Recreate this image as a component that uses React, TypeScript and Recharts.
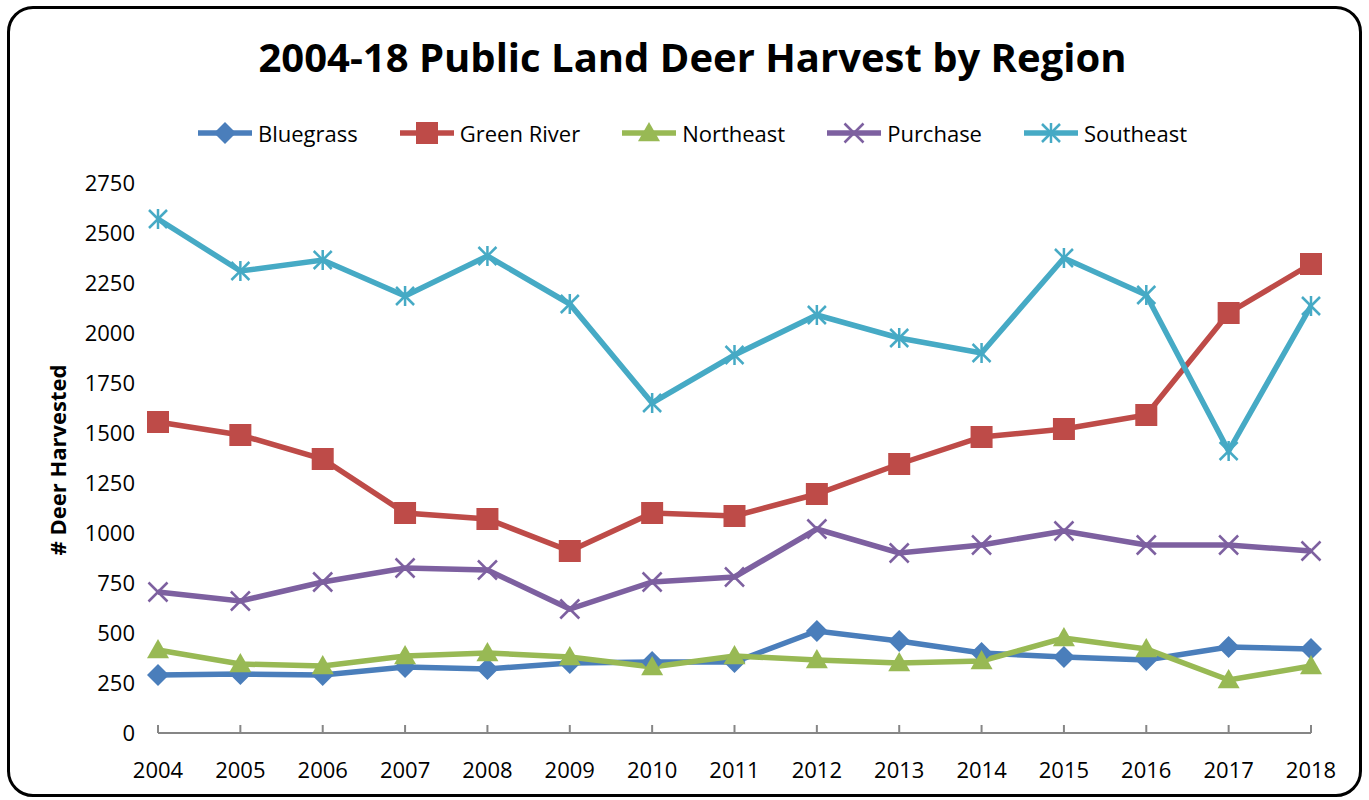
import React from 'react';
import { LineChart, Line, XAxis, YAxis, Legend } from 'recharts';

const years = ['2004', '2005', '2006', '2007', '2008', '2009', '2010', '2011', '2012', '2013', '2014', '2015', '2016', '2017', '2018'];
const bluegrass = [290, 295, 290, 330, 320, 350, 355, 355, 510, 460, 400, 380, 365, 430, 420];
const greenRiver = [1555, 1490, 1370, 1100, 1070, 910, 1100, 1085, 1195, 1345, 1480, 1520, 1590, 2100, 2345];
const northeast = [415, 345, 335, 385, 400, 380, 330, 385, 365, 350, 360, 475, 420, 265, 335];
const purchase = [705, 660, 755, 825, 815, 620, 755, 780, 1020, 900, 940, 1010, 940, 940, 910];
const southeast = [2570, 2310, 2365, 2185, 2385, 2145, 1650, 1890, 2090, 1975, 1900, 2375, 2190, 1410, 2135];
const yTicks = [0, 250, 500, 750, 1000, 1250, 1500, 1750, 2000, 2250, 2500, 2750];

const seriesNames = ['Bluegrass', 'Green River', 'Northeast', 'Purchase', 'Southeast'];
const seriesColors = ['#4A7EBB', '#BE4B48', '#98B954', '#7D60A0', '#46AAC5'];
const seriesMarkers = ['diamond', 'square', 'triangle', 'x', 'star'];
const seriesValues = [bluegrass, greenRiver, northeast, purchase, southeast];

const data = years.map((y, i) => {
  const row: any = { year: y };
  seriesNames.forEach((n, k) => { row[n] = seriesValues[k][i]; });
  return row;
});

const FONT = '"Open Sans", sans-serif';
const AXIS_Y = 733;

function Marker({ kind, cx, cy, color }: { kind: string; cx: number; cy: number; color: string }) {
  if (kind === 'diamond') {
    const r = 11;
    return <polygon points={`${cx},${cy - r} ${cx + r},${cy} ${cx},${cy + r} ${cx - r},${cy}`} fill={color} />;
  }
  if (kind === 'square') {
    const r = 11;
    return <rect x={cx - r} y={cy - r} width={2 * r} height={2 * r} fill={color} />;
  }
  if (kind === 'triangle') {
    const r = 11;
    return <polygon points={`${cx},${cy - r} ${cx + r},${cy + r * 0.75} ${cx - r},${cy + r * 0.75}`} fill={color} />;
  }
  if (kind === 'x') {
    const r = 9.5;
    return (
      <g stroke={color} strokeWidth={2.5}>
        <line x1={cx - r} y1={cy - r} x2={cx + r} y2={cy + r} />
        <line x1={cx - r} y1={cy + r} x2={cx + r} y2={cy - r} />
      </g>
    );
  }
  const r = 9;
  return (
    <g stroke={color} strokeWidth={2.5}>
      <line x1={cx - r} y1={cy - r} x2={cx + r} y2={cy + r} />
      <line x1={cx - r} y1={cy + r} x2={cx + r} y2={cy - r} />
      <line x1={cx} y1={cy - r - 1} x2={cx} y2={cy + r + 1} />
    </g>
  );
}

const makeDot = (kind: string, color: string) => (props: any) => {
  const { cx, cy, index } = props;
  if (cx == null || cy == null) return <g key={`d-${index}`} />;
  return <g key={`d-${kind}-${index}`}><Marker kind={kind} cx={cx} cy={cy} color={color} /></g>;
};

const XTick = (props: any) => {
  const { x, payload } = props;
  return (
    <g>
      <line x1={x} x2={x} y1={AXIS_Y - 8} y2={AXIS_Y} stroke="#868686" strokeWidth={2} />
      <text x={x} y={AXIS_Y + 45} textAnchor="middle" fontFamily={FONT} fontSize={22} fill="#000">{payload.value}</text>
    </g>
  );
};

const LegendContent = () => (
  <div style={{ display: 'flex', justifyContent: 'center', fontFamily: FONT, fontSize: 22, color: '#000', paddingLeft: 14 }}>
    {seriesNames.map((n, k) => (
      <div key={n} style={{ display: 'flex', alignItems: 'center', marginRight: k < seriesNames.length - 1 ? 40 : 0 }}>
        <svg width={58} height={26} style={{ marginRight: 4 }}>
          <line x1={2} x2={56} y1={13} y2={13} stroke={seriesColors[k]} strokeWidth={5.5} />
          <Marker kind={seriesMarkers[k]} cx={29} cy={13} color={seriesColors[k]} />
        </svg>
        <span>{n}</span>
      </div>
    ))}
  </div>
);

const YLabel = () => (
  <text transform="translate(66,460) rotate(-90)" textAnchor="middle" fontFamily={FONT} fontWeight="bold" fontSize={22} fill="#000">
    # Deer Harvested
  </text>
);

export default function App() {
  return (
    <div style={{ position: 'absolute', left: 0, top: 0, width: 1369, height: 800, background: '#fff' }}>
      <div style={{ position: 'absolute', left: 7, top: 6, width: 1349, height: 785, border: '3px solid #000', borderRadius: 26 }} />
      <div style={{ position: 'absolute', left: 0, top: 29, width: 1385, textAlign: 'center', fontFamily: FONT, fontWeight: 'bold', fontSize: 40, color: '#000' }}>
        2004-18 Public Land Deer Harvest by Region
      </div>
      <div style={{ position: 'absolute', left: 0, top: 0 }}>
        <LineChart width={1369} height={800} data={data} margin={{ top: 183, right: 58, bottom: 27, left: 0 }}>
          <XAxis dataKey="year" height={40} tickSize={0} tickMargin={0} tickLine={false} axisLine={{ stroke: '#868686', strokeWidth: 2 }} tick={<XTick />} interval={0} />
          <YAxis width={158} domain={[0, 2750]} ticks={yTicks} axisLine={false} tickLine={false} tickSize={0} tickMargin={23}
            tick={{ fontFamily: FONT, fontSize: 22, fill: '#000' }} label={<YLabel />} interval={0} />
          <Legend layout="horizontal" verticalAlign="middle" align="center" wrapperStyle={{ top: 118, left: 0, width: 1369 }} content={<LegendContent />} />
          {seriesNames.map((n, k) => (
            <Line key={n} type="linear" dataKey={n} name={n} stroke={seriesColors[k]} strokeWidth={5.5}
              dot={makeDot(seriesMarkers[k], seriesColors[k])} activeDot={false} isAnimationActive={false} />
          ))}
        </LineChart>
      </div>
    </div>
  );
}
